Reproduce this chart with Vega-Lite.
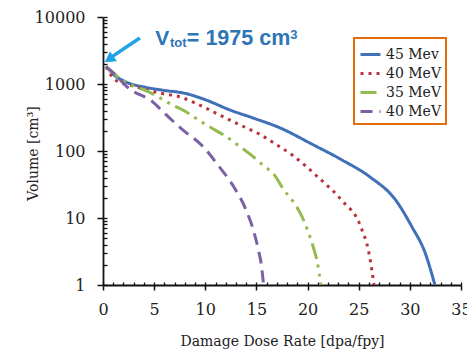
{
  "$schema": "https://vega.github.io/schema/vega-lite/v6.json",
  "width": 358,
  "height": 268,
  "autosize": {"type": "none"},
  "padding": {"left": 103, "top": 17, "right": 6, "bottom": 68},
  "background": "white",
  "config": {
    "view": {"stroke": null},
    "axis": {"grid": false},
    "legend": {
      "orient": "none",
      "legendX": 251,
      "legendY": 21,
      "strokeColor": "#E46C0A",
      "strokeWidth": 2,
      "padding": 5,
      "fillColor": "white",
      "symbolType": "stroke",
      "symbolSize": 400,
      "symbolStrokeWidth": 3,
      "labelFont": "DejaVu Serif",
      "labelFontSize": 14,
      "labelColor": "#222222",
      "labelOffset": 4,
      "rowPadding": 0
    }
  },
  "datasets": {
    "curves": [
      {"s": "a", "x": 0.3, "v": 1850}, {"s": "a", "x": 1, "v": 1400}, {"s": "a", "x": 2.2, "v": 1080}, {"s": "a", "x": 4.2, "v": 890}, {"s": "a", "x": 5.8, "v": 810}, {"s": "a", "x": 8.1, "v": 720}, {"s": "a", "x": 10.1, "v": 575}, {"s": "a", "x": 12.4, "v": 410}, {"s": "a", "x": 14.7, "v": 310}, {"s": "a", "x": 17.2, "v": 225}, {"s": "a", "x": 20.5, "v": 125}, {"s": "a", "x": 23.4, "v": 73}, {"s": "a", "x": 26.1, "v": 41}, {"s": "a", "x": 28.6, "v": 18.6}, {"s": "a", "x": 30.2, "v": 7.4}, {"s": "a", "x": 31.5, "v": 3.0}, {"s": "a", "x": 32.45, "v": 1},
      {"s": "b", "x": 0.3, "v": 1800}, {"s": "b", "x": 1.2, "v": 1150}, {"s": "b", "x": 3.2, "v": 910}, {"s": "b", "x": 5.8, "v": 720}, {"s": "b", "x": 7.4, "v": 650}, {"s": "b", "x": 9.1, "v": 513}, {"s": "b", "x": 11.4, "v": 345}, {"s": "b", "x": 13.4, "v": 245}, {"s": "b", "x": 15.4, "v": 175}, {"s": "b", "x": 17, "v": 123}, {"s": "b", "x": 18.5, "v": 87}, {"s": "b", "x": 21.0, "v": 41}, {"s": "b", "x": 23.3, "v": 18.6}, {"s": "b", "x": 25.2, "v": 7.4}, {"s": "b", "x": 26.0, "v": 3}, {"s": "b", "x": 26.5, "v": 1},
      {"s": "c", "x": 0.3, "v": 1800}, {"s": "c", "x": 1.9, "v": 1150}, {"s": "c", "x": 4.8, "v": 720}, {"s": "c", "x": 6.8, "v": 485}, {"s": "c", "x": 8.1, "v": 386}, {"s": "c", "x": 9.1, "v": 307}, {"s": "c", "x": 10.4, "v": 230}, {"s": "c", "x": 11.8, "v": 173}, {"s": "c", "x": 13.4, "v": 116}, {"s": "c", "x": 14.5, "v": 87}, {"s": "c", "x": 15.6, "v": 62}, {"s": "c", "x": 16.7, "v": 45}, {"s": "c", "x": 17.7, "v": 26}, {"s": "c", "x": 18.6, "v": 17.5}, {"s": "c", "x": 19.3, "v": 11.7}, {"s": "c", "x": 20.0, "v": 6.6}, {"s": "c", "x": 20.6, "v": 3.5}, {"s": "c", "x": 20.95, "v": 2.2}, {"s": "c", "x": 21.3, "v": 1},
      {"s": "d", "x": 0.3, "v": 1800}, {"s": "d", "x": 0.9, "v": 1520}, {"s": "d", "x": 2.5, "v": 865}, {"s": "d", "x": 4.8, "v": 550}, {"s": "d", "x": 6.2, "v": 345}, {"s": "d", "x": 7.8, "v": 206}, {"s": "d", "x": 9.7, "v": 120}, {"s": "d", "x": 11.3, "v": 60}, {"s": "d", "x": 12.8, "v": 29}, {"s": "d", "x": 14.0, "v": 13}, {"s": "d", "x": 14.7, "v": 6.6}, {"s": "d", "x": 15.2, "v": 3.3}, {"s": "d", "x": 15.5, "v": 1.9}, {"s": "d", "x": 15.7, "v": 1}
    ],
    "arrow": [{"x1": 3.6, "y1": 4860, "x2": 0.82, "y2": 2520}],
    "head": [{"x": 0.6, "y": 2340}],
    "tV": [{"x": 5.1, "y": 3820, "t": "V"}],
    "tSub": [{"x": 6.55, "y": 3565, "t": "tot"}],
    "tMain": [{"x": 8.2, "y": 3820, "t": "= 1975 cm"}],
    "tSup": [{"x": 18.3, "y": 4750, "t": "3"}]
  },
  "layer": [
    {
      "data": {"name": "curves"},
      "mark": {"type": "line", "strokeWidth": 3, "clip": true, "interpolate": "monotone"},
      "encoding": {
        "x": {
          "field": "x", "type": "quantitative",
          "scale": {"domain": [0, 35], "nice": false, "zero": false},
          "axis": {
            "values": [0, 5, 10, 15, 20, 25, 30, 35],
            "tickSize": 5, "tickWidth": 1.5, "tickColor": "#111111",
            "domainColor": "#111111", "domainWidth": 1.8,
            "labelFont": "DejaVu Serif", "labelFontSize": 16, "labelColor": "#222222",
            "labelPadding": 11, "labelFlush": false, "labelOverlap": false, "labelBound": false,
            "title": "Damage Dose Rate [dpa/fpy]",
            "titleFont": "DejaVu Serif", "titleFontSize": 14, "titleFontWeight": "normal", "titleColor": "#222222",
            "titlePadding": 17
          }
        },
        "y": {
          "field": "v", "type": "quantitative",
          "scale": {"type": "log", "domain": [1, 10000], "nice": false},
          "axis": {
            "values": [1, 10, 100, 1000, 10000], "format": "d",
            "tickSize": 6, "tickWidth": 1.5, "tickColor": "#111111",
            "domainColor": "#111111", "domainWidth": 1.8,
            "labelFont": "DejaVu Serif", "labelFontSize": 16, "labelColor": "#222222",
            "labelPadding": 12, "labelOverlap": false,
            "title": "Volume [cm³]",
            "titleFont": "DejaVu Serif", "titleFontSize": 14, "titleFontWeight": "normal", "titleColor": "#222222",
            "titleX": -63, "titleY": 136
          }
        },
        "color": {
          "field": "s", "type": "nominal",
          "scale": {"domain": ["a", "b", "c", "d"], "range": ["#3F70B8", "#B8343C", "#93BB4F", "#7D5FA6"]},
          "legend": {"title": null, "labelExpr": "datum.value=='a'?'45 Mev':datum.value=='b'?'40 MeV':datum.value=='c'?'35 MeV':'40 MeV'"}
        },
        "strokeDash": {
          "field": "s", "type": "nominal",
          "scale": {"domain": ["a", "b", "c", "d"], "range": [[1, 0], [3, 5], [16, 6, 3, 6, 3, 6], [12, 7]]},
          "legend": {"title": null, "labelExpr": "datum.value=='a'?'45 Mev':datum.value=='b'?'40 MeV':datum.value=='c'?'35 MeV':'40 MeV'"}
        }
      }
    },
    {
      "data": {"name": "arrow"},
      "mark": {"type": "rule", "color": "#1FA3E6", "strokeWidth": 3.5},
      "encoding": {
        "x": {"field": "x1", "type": "quantitative", "axis": null},
        "y": {"field": "y1", "type": "quantitative", "axis": null},
        "x2": {"field": "x2"},
        "y2": {"field": "y2"}
      }
    },
    {
      "data": {"name": "head"},
      "mark": {"type": "point", "shape": "triangle-up", "filled": true, "color": "#1FA3E6", "opacity": 1, "size": 150, "angle": 235},
      "encoding": {
        "x": {
          "field": "x", "type": "quantitative",
          "axis": {
            "orient": "bottom", "offset": -3, "tickCount": 35,
            "labels": false, "domain": false, "title": null,
            "tickSize": 3, "tickWidth": 1.3, "tickColor": "#111111"
          }
        },
        "y": {
          "field": "y", "type": "quantitative",
          "axis": {
            "orient": "left", "offset": -4, "tickCount": 40,
            "labels": false, "domain": false, "title": null,
            "tickSize": 4, "tickWidth": 1.3, "tickColor": "#111111"
          }
        }
      }
    },
    {
      "data": {"name": "tV"},
      "mark": {"type": "text", "align": "left", "baseline": "alphabetic", "font": "Liberation Sans", "fontWeight": "bold", "fontSize": 21, "color": "#2E75B6"},
      "encoding": {
        "x": {"field": "x", "type": "quantitative", "axis": null},
        "y": {"field": "y", "type": "quantitative", "axis": null},
        "text": {"field": "t"}
      }
    },
    {
      "data": {"name": "tSub"},
      "mark": {"type": "text", "align": "left", "baseline": "alphabetic", "font": "Liberation Sans", "fontWeight": "bold", "fontSize": 13, "color": "#2E75B6"},
      "encoding": {
        "x": {"field": "x", "type": "quantitative", "axis": null},
        "y": {"field": "y", "type": "quantitative", "axis": null},
        "text": {"field": "t"}
      }
    },
    {
      "data": {"name": "tMain"},
      "mark": {"type": "text", "align": "left", "baseline": "alphabetic", "font": "Liberation Sans", "fontWeight": "bold", "fontSize": 21.5, "color": "#2E75B6"},
      "encoding": {
        "x": {"field": "x", "type": "quantitative", "axis": null},
        "y": {"field": "y", "type": "quantitative", "axis": null},
        "text": {"field": "t"}
      }
    },
    {
      "data": {"name": "tSup"},
      "mark": {"type": "text", "align": "left", "baseline": "alphabetic", "font": "Liberation Sans", "fontWeight": "bold", "fontSize": 13, "color": "#2E75B6"},
      "encoding": {
        "x": {"field": "x", "type": "quantitative", "axis": null},
        "y": {"field": "y", "type": "quantitative", "axis": null},
        "text": {"field": "t"}
      }
    }
  ],
  "resolve": {"axis": {"x": "independent", "y": "independent"}}
}
